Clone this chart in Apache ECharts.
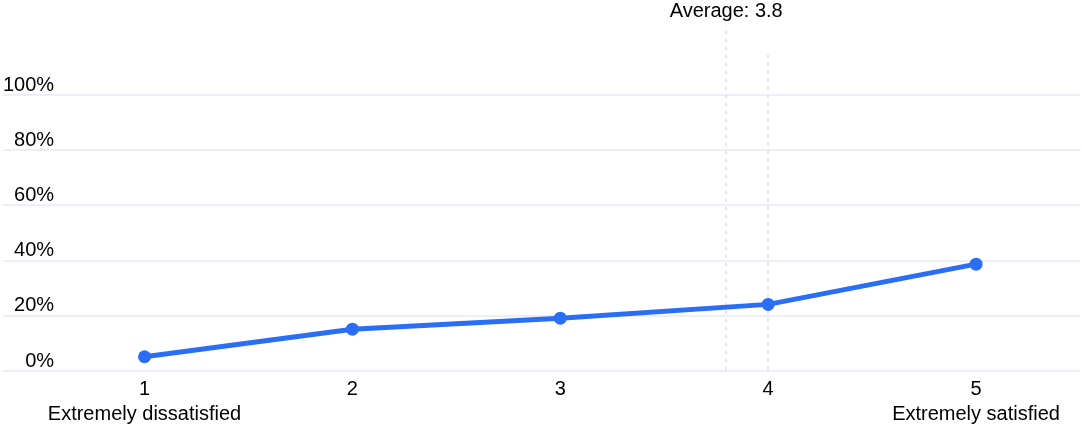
<!DOCTYPE html>
<html>
<head>
<meta charset="utf-8">
<style>
html,body{margin:0;padding:0;background:#fff;}
#chart{width:1082px;height:428px;}
</style>
<script src="https://cdn.jsdelivr.net/npm/echarts@6/dist/echarts.min.js"></script>
</head>
<body>
<div id="chart"></div>
<script>
const scores = [1, 2, 3, 4, 5];
const scoreNames = ['Extremely dissatisfied', '', '', '', 'Extremely satisfied'];
const percents = [5, 15, 19, 24, 38.6];
const yTicks = [0, 20, 40, 60, 80, 100];
const averageScore = 3.8;
const medianScore = 4;

const FONT = 'Liberation Sans, Arial, sans-serif';
const chart = echarts.init(document.getElementById('chart'));
const seriesData = scores.map((s, i) => [s, percents[i]]);

chart.setOption({
  animation: false,
  textStyle: { fontFamily: FONT },
  grid: [
    { left: 2, right: 2, top: 95, bottom: 57.5, containLabel: false },
    { left: 2, right: 2, top: 26, bottom: 57.5, containLabel: false }
  ],
  xAxis: [
    {
      type: 'value', gridIndex: 0, min: 0.32, max: 5.5,
      axisLine: { show: false }, axisTick: { show: false }, splitLine: { show: false },
      axisLabel: {
        customValues: scores,
        margin: 6,
        color: '#000',
        fontSize: 20,
        lineHeight: 25,
        fontFamily: FONT,
        formatter: function (v) {
          const i = scores.indexOf(v);
          if (i < 0) return '';
          return scoreNames[i] ? v + '\n' + scoreNames[i] : String(v);
        }
      }
    },
    {
      type: 'value', gridIndex: 1, min: 0.32, max: 5.5, show: false
    }
  ],
  yAxis: [
    {
      type: 'value', gridIndex: 0, min: 0, max: 100, interval: 20,
      axisLine: { show: false }, axisTick: { show: false },
      splitLine: { show: true, lineStyle: { color: '#e6eaf4', width: 1.5 } },
      axisLabel: {
        inside: true,
        margin: 51,
        align: 'right',
        verticalAlign: 'bottom',
        color: '#000',
        fontSize: 20,
        lineHeight: 19,
        fontFamily: FONT,
        formatter: '{value}%'
      }
    },
    {
      type: 'value', gridIndex: 1, min: 0, max: 125, show: false
    }
  ],
  series: [
    {
      type: 'line',
      xAxisIndex: 0, yAxisIndex: 0,
      data: seriesData,
      symbol: 'circle',
      symbolSize: 13,
      lineStyle: { color: '#2a6ef5', width: 5 },
      itemStyle: { color: '#2a6ef5' },
      z: 5
    },
    {
      type: 'line',
      xAxisIndex: 1, yAxisIndex: 1,
      data: [],
      silent: true,
      markLine: {
        silent: true,
        symbol: ['none', 'none'],
        lineStyle: { color: '#dedfea', type: [4, 4], width: 1.5 },
        data: [
          [
            { coord: [averageScore, 0] },
            { coord: [averageScore, 125], label: { show: true, position: 'end', formatter: 'Average: ' + averageScore, color: '#000', fontSize: 20, fontFamily: FONT } }
          ],
          [
            { coord: [medianScore, 0] },
            { coord: [medianScore, 116], label: { show: false } }
          ]
        ]
      },
      z: 1
    }
  ]
});
</script>
</body>
</html>
